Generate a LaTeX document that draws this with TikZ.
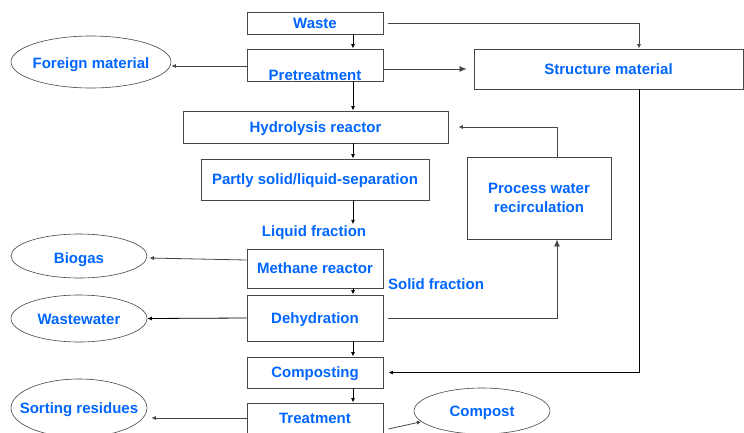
\documentclass[tikz,border=0pt]{standalone}
\usepackage{fontspec}
\setmainfont{Liberation Sans}
\usetikzlibrary{arrows.meta,shapes.geometric,calc}
\definecolor{txtblue}{RGB}{0,102,255}
\definecolor{linegray}{RGB}{70,70,70}
\begin{document}
\begin{tikzpicture}[x=1pt,y=-1pt,
  every node/.style={font=\fontsize{15}{18.5}\selectfont\bfseries, text=txtblue, inner sep=0pt, text depth=0pt},
  pbox/.style={draw=linegray, line width=0.9pt, rectangle, align=center},
  oval/.style={draw=linegray, line width=0.6pt, ellipse},
  lbl/.style={},
  mainarr/.style={draw=black, line width=1pt, -{Latex[length=4.5pt,width=4pt]}},
  sidearr/.style={draw=linegray, line width=0.8pt, -{Latex[length=4.5pt,width=4pt]}},
  bigarr/.style={draw=linegray, line width=0.8pt, -{Latex[length=7pt,width=6pt]}}
]
\useasboundingbox (0,0) rectangle (744,432);
\fill[white] (0,0) rectangle (744,432);

% helper coordinates for vertical lines
\coordinate (cx) at (353,0);
\coordinate (cs) at (639,0);

% boxes
\node[pbox, minimum width=136, minimum height=22] (waste) at (315,23) {Waste};
\node[pbox, minimum width=136, minimum height=32] (pre) at (315,65) {};
\node (pretxt) at (315,75.5) {Pretreatment};
\node[pbox, minimum width=265, minimum height=32] (hyd) at (315.5,127) {Hydrolysis reactor};
\node[pbox, minimum width=228, minimum height=41] (part) at (315,179.5) {Partly solid/liquid-separation};
\node[pbox, minimum width=136, minimum height=39] (meth) at (315,268.5) {Methane reactor};
\node[pbox, minimum width=136, minimum height=46] (dehyd) at (315,318) {Dehydration};
\node[pbox, minimum width=136, minimum height=31] (comp) at (315,372.5) {Composting};
\node[pbox, minimum width=136, minimum height=40] (treat) at (315,423) {};
\node (treattxt) at (315,418.5) {Treatment};
\node[pbox, minimum width=269, minimum height=40] (struct) at (608.5,69) {Structure material};
\node[pbox, minimum width=144, minimum height=82] (pwr) at (539,198) {Process water\\recirculation};

% ellipses
\node[oval, minimum width=160, minimum height=52] (foreign) at (91,62) {};
\node (foreigntxt) at (91,63) {Foreign material};
\node[oval, minimum width=136, minimum height=44] (biogas) at (79,256) {};
\node (biogastxt) at (79,258) {Biogas};
\node[oval, minimum width=136, minimum height=47] (wwater) at (79,318.5) {};
\node (wwatertxt) at (79,319.5) {Wastewater};
\node[oval, minimum width=136, minimum height=58] (sort) at (79,408) {};
\node (sorttxt) at (79,408) {Sorting residues};
\node[oval, minimum width=136, minimum height=46] (compost) at (482,411) {};
\node (composttxt) at (482,411) {Compost};

% labels
\node[lbl] (liq) at (314,231) {Liquid fraction};
\node[lbl] (solid) at (436,284.5) {Solid fraction};

% main vertical arrows
\draw[mainarr] (waste.south -| cx) -- (pre.north -| cx);
\draw[mainarr] (pre.south -| cx) -- (hyd.north -| cx);
\draw[mainarr] (hyd.south -| cx) -- (part.north -| cx);
\draw[mainarr] (part.south -| cx) -- ([yshift=1pt]liq.north -| cx);
\draw[mainarr] (meth.south -| cx) -- (dehyd.north -| cx);
\draw[mainarr] (dehyd.south -| cx) -- (comp.north -| cx);
\draw[mainarr] (comp.south -| cx) -- (treat.north -| cx);

% side outputs
\draw[sidearr] ([yshift=-1pt]pre.west) -- ([yshift=-1pt]pre.west -| foreign.east);
\draw[sidearr] ([yshift=8.5pt]meth.west) -- ([yshift=-2pt,xshift=2pt]biogas.east);
\draw[sidearr, draw=black] (dehyd.west) -- (wwater.east);
\draw[sidearr] ([yshift=5pt]treat.west) -- ([yshift=-10pt,xshift=4pt]sort.east);
\draw[sidearr] ([xshift=5pt,yshift=-6pt]treat.east) -- (compost.190);

% structure material paths
\draw[sidearr] ([xshift=5pt]waste.east) -| (struct.north -| cs);
\draw[bigarr] (pre.east |- struct.west) -- ([xshift=-7pt]struct.west);
\draw[sidearr, draw=black, line width=1pt] (struct.south -| cs) |- ([xshift=5pt]comp.east);

% process water recirculation
\draw[bigarr] ([xshift=5pt]dehyd.east) -| ([xshift=18pt]pwr.south);
\draw[sidearr] ([xshift=18pt]pwr.north) |- ([xshift=10pt]hyd.east);
\end{tikzpicture}
\end{document}
